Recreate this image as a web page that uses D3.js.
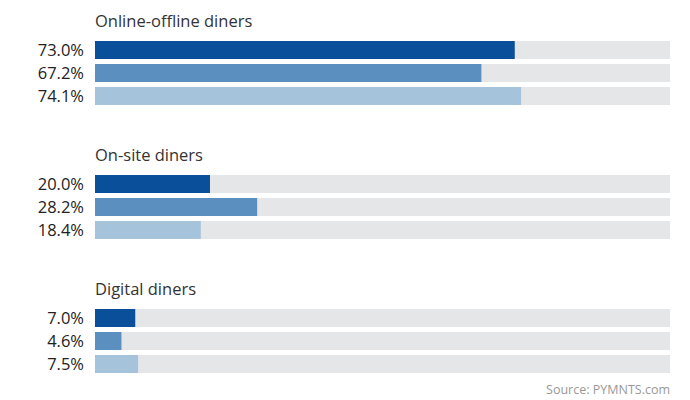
<!DOCTYPE html>
<html>
<head>
<meta charset="utf-8">
<script src="https://cdn.jsdelivr.net/npm/d3@7"></script>
<style>
  body { margin: 0; background: #fff; }
  text { font-family: "Open Sans", "Noto Sans", sans-serif; fill: #222; }
</style>
</head>
<body>
<svg></svg>
<script>
const WIDTH = 690
const HEIGHT = 400
const groups = ['Online-offline diners', 'On-site diners', 'Digital diners']
const series = ['a', 'b', 'c']
const values = [
  [73.0, 67.2, 74.1],
  [20.0, 28.2, 18.4],
  [7.0, 4.6, 7.5]
]
const colors = ['#0a4f99', '#5b8fbf', '#a6c3dc']

const svg = d3.select('svg')
  .attr('width', WIDTH)
  .attr('height', HEIGHT)

const x = d3.scaleLinear().domain([0, 100]).range([95, 670])
const gy = d3.scaleBand().domain(groups).range([0, 402])
const by = d3.scaleBand().domain(series).range([41, 105]).paddingInner(5 / 23).paddingOuter(0)

const g = svg.selectAll('g.group')
  .data(groups)
  .enter().append('g')
  .attr('class', 'group')
  .attr('transform', d => `translate(0,${gy(d)})`)

g.append('text')
  .attr('x', x(0))
  .attr('y', 27)
  .attr('font-size', 16.5)
  .style('fill', '#333')
  .text(d => d)

g.each(function(grp, gi){
  const sel = d3.select(this)
  const rows = values[gi].map((v, i) => ({ v, s: series[i], c: colors[i] }))
  sel.selectAll('rect.bg')
    .data(rows)
    .enter().append('rect')
    .attr('class', 'bg')
    .attr('x', x(0))
    .attr('y', d => by(d.s))
    .attr('width', x(100) - x(0))
    .attr('height', by.bandwidth())
    .attr('fill', '#e5e6e8')
  sel.selectAll('rect.bar')
    .data(rows)
    .enter().append('rect')
    .attr('class', 'bar')
    .attr('x', x(0))
    .attr('y', d => by(d.s))
    .attr('width', d => x(d.v) - x(0))
    .attr('height', by.bandwidth())
    .attr('fill', d => d.c)
  sel.selectAll('text.val')
    .data(rows)
    .enter().append('text')
    .attr('class', 'val')
    .attr('x', 84)
    .attr('y', d => by(d.s) + by.bandwidth() / 2)
    .attr('dy', '0.36em')
    .attr('text-anchor', 'end')
    .attr('font-size', 16.5)
    .text(d => d.v.toFixed(1) + '%')
})

svg.append('text')
  .attr('x', 670)
  .attr('y', 394)
  .attr('text-anchor', 'end')
  .attr('font-size', 12.5)
  .style('fill', '#999')
  .text('Source: PYMNTS.com')
</script>
</body>
</html>
